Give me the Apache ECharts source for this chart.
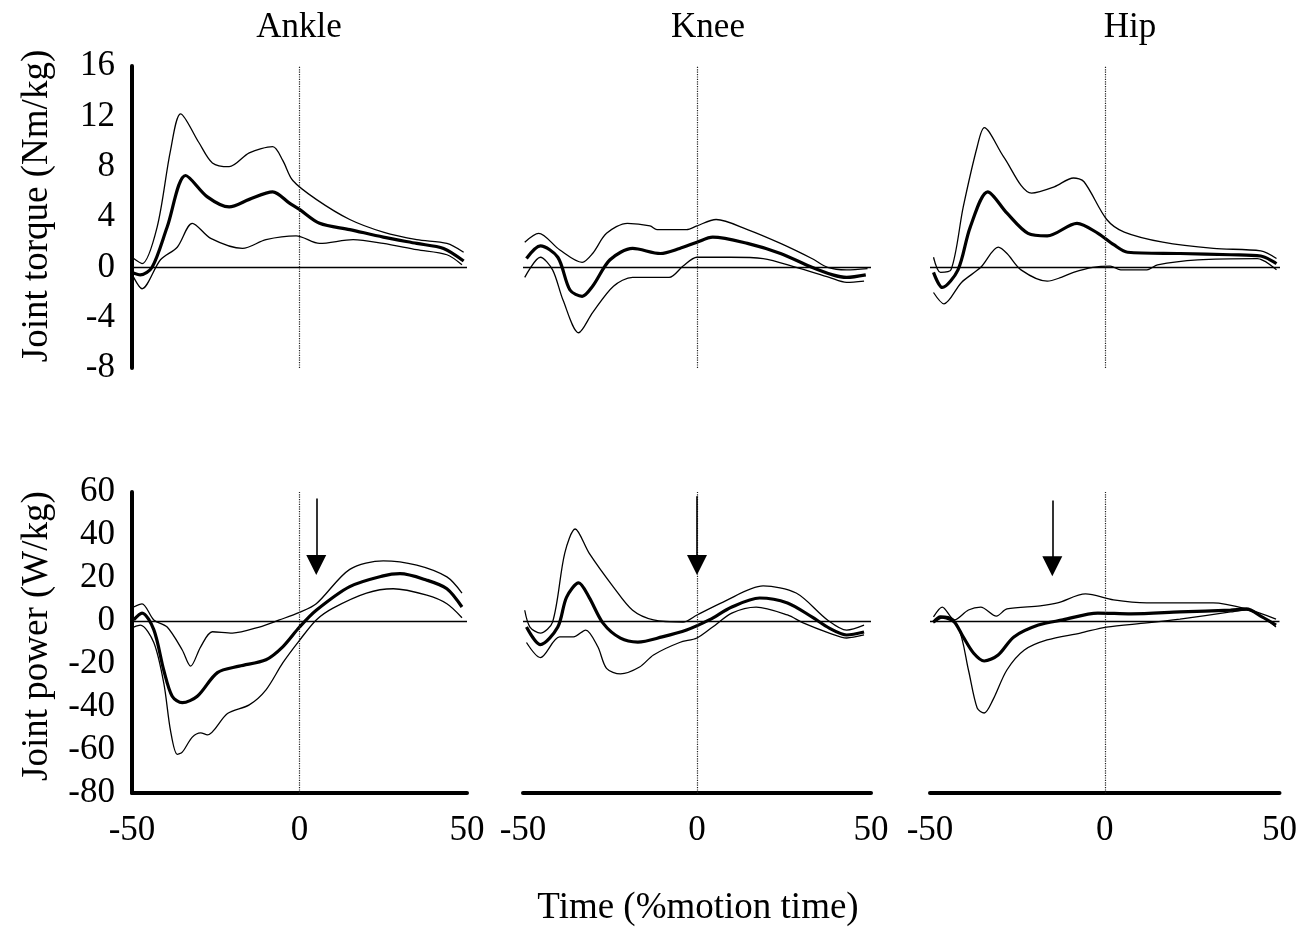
<!DOCTYPE html>
<html>
<head>
<meta charset="utf-8">
<title>Joint torque and power</title>
<script src="https://cdn.jsdelivr.net/npm/echarts/dist/echarts.min.js"></script>
<style>
  html, body { margin: 0; padding: 0; background: #fff; }
  #main { width: 1300px; height: 930px; }
</style>
</head>
<body>
<div id="main"></div>
<script>
// joints (columns) and row quantities
const joints = ['Ankle', 'Knee', 'Hip'];
const rowNames = ['Joint torque (Nm/kg)', 'Joint power (W/kg)'];
const xTicks = { min: -50, max: 50, interval: 50 };
const torqueTicks = { min: -8, max: 16, interval: 4 };
const powerTicks = { min: -80, max: 60, interval: 20 };

// [time %, value]: mean (thick) and +/- SD (thin)
const ankleTorqueMean = [[-50,-0.4],[-47.5,-0.6],[-44,0.0],[-39.5,3.2],[-34,7.3],[-27.5,5.6],[-21,4.8],[-15,5.4],[-8,6.0],[-3,5.1],[0,4.6],[6,3.5],[15,3.0],[25,2.4],[35,1.9],[43,1.5],[49,0.5]];
const ankleTorqueUpper = [[-49.5,0.7],[-47,0.3],[-42.5,3.2],[-38.5,9.3],[-35.5,12.2],[-30,9.9],[-26,8.3],[-21,8.0],[-15,9.1],[-8,9.6],[-5,8.5],[-2,6.9],[5,5.4],[15,3.8],[25,2.8],[35,2.2],[44,1.9],[49,1.2]];
const ankleTorqueLower = [[-49.5,-0.8],[-47,-1.7],[-41.5,0.6],[-36.5,1.6],[-32,3.5],[-26.5,2.3],[-17,1.5],[-10,2.2],[-1,2.5],[6,1.9],[16,2.2],[25,1.9],[35,1.4],[44,1.0],[48.5,0.2]];

const kneeTorqueMean = [[-49,0.7],[-45,1.7],[-40,0.8],[-36.5,-1.8],[-33,-2.3],[-30,-1.5],[-25,0.6],[-18.5,1.5],[-10.5,1.1],[-5,1.5],[0,2.0],[4.5,2.4],[14.5,1.9],[24,1.1],[33,0.0],[39,-0.6],[43,-0.8],[48.5,-0.6]];
const kneeTorqueUpper = [[-49.5,2.0],[-45.5,2.7],[-39.5,1.4],[-33,0.4],[-30,1.1],[-26,2.7],[-20,3.5],[-13.5,3.3],[-11.5,3.0],[-3,3.0],[0,3.3],[5.5,3.8],[14.5,3.0],[24,1.9],[33,0.7],[37.5,0.0],[43,-0.2],[49,-0.1]];
const kneeTorqueLower = [[-49.5,-0.8],[-45,0.8],[-41.5,-0.2],[-38.5,-2.6],[-34,-5.2],[-30,-3.6],[-24,-1.5],[-18.5,-0.8],[-8,-0.8],[-4,0.1],[0,0.8],[9.5,0.8],[19,0.7],[28.5,0.0],[38,-0.8],[43,-1.2],[48,-1.1]];

const hipTorqueMean = [[-49,-0.4],[-46.5,-1.6],[-42,-0.2],[-38.5,3.2],[-33.5,6.0],[-28,4.3],[-22,2.7],[-16.5,2.5],[-8,3.5],[-2,2.7],[2.5,1.8],[6.5,1.2],[21.5,1.1],[36,1.0],[44.5,0.9],[49,0.3]];
const hipTorqueUpper = [[-49,0.8],[-47,-0.4],[-44,-0.2],[-40.5,4.8],[-36.5,9.6],[-34.5,11.1],[-29,8.8],[-21,5.9],[-14.5,6.4],[-9,7.1],[-6,6.8],[0.5,3.8],[5.5,2.8],[16.5,2.0],[31,1.5],[44.5,1.3],[49,0.7]];
const hipTorqueLower = [[-49,-2.0],[-46,-2.9],[-41,-1.2],[-35.5,0.0],[-30.5,1.6],[-28,1.1],[-24,-0.2],[-16.5,-1.1],[-12.5,-0.8],[-9,-0.4],[-3.5,0.0],[1.5,0.1],[4.5,-0.2],[12,-0.2],[15,0.2],[26.5,0.6],[43.5,0.7],[49,-0.2]];

const anklePowerMean = [[-49.5,0.5],[-47,3.7],[-43.5,-4],[-40.5,-23],[-38,-35],[-35,-38],[-30.5,-35],[-24.5,-24],[-18,-21],[-10,-18],[-5,-12],[0,-2.8],[5,5],[15,16],[25,21],[30,22],[38,19],[44,15],[48.5,6.5]];
const anklePowerUpper = [[-49.5,6.5],[-47,8],[-43.5,0.5],[-39.5,-2.8],[-35,-13.5],[-32.5,-21],[-29.5,-12],[-26,-5],[-20,-5.6],[-12,-2.8],[-6,0.5],[0,4],[5,8],[15,24],[25,28],[35,26],[44,20.5],[48.5,13]];
const anklePowerLower = [[-49.5,-2.8],[-47.5,-1.9],[-43.5,-10],[-40.5,-29],[-38.5,-51],[-36.5,-62],[-35,-61],[-32,-54],[-29.5,-52],[-27.5,-53],[-21.5,-43],[-15,-39],[-10,-32],[-5,-19.5],[0,-9],[5,0.5],[10,6],[20,13],[28,15],[38,12],[44,8],[48.5,1.5]];

const kneePowerMean = [[-49,-2.8],[-45,-11],[-40,-2.8],[-37.5,11],[-34,17.7],[-31,11],[-27,-1],[-22,-8],[-17,-9.8],[-10,-7.4],[-3,-4.2],[3.5,0.5],[10,6.5],[18,10.7],[26,8.4],[33,1.9],[38,-3.3],[43,-6.5],[48,-5.1]];
const kneePowerUpper = [[-49.5,5],[-48,-2.8],[-45,-5.6],[-41.5,-0.5],[-38,31.6],[-35,42.8],[-31,31.6],[-24,15.8],[-18.5,5],[-12.5,0.5],[-4,-0.5],[0,2.8],[7.5,8.8],[19,16.3],[28.5,13],[37.5,0.5],[43,-4.2],[48,-1.9]];
const kneePowerLower = [[-49,-10],[-45,-17],[-39.5,-7.4],[-35.5,-7.4],[-32,-4.2],[-28.5,-12],[-26,-22],[-22,-24.6],[-16.5,-21.4],[-12.5,-15.8],[-5,-10],[0,-7.9],[4.5,-2.8],[10,3.7],[17,6.5],[26,2.8],[30.5,-0.9],[38,-5.6],[43,-7.9],[48,-6.5]];

const hipPowerMean = [[-49,-0.5],[-47,1.9],[-43.5,0.5],[-40.5,-7.4],[-37.5,-15],[-34.5,-18.6],[-30.5,-15.8],[-26,-7.4],[-19,-1.9],[-12,0.5],[-2,3.7],[7.5,3.3],[21.5,4.2],[36,5.1],[40.5,5.6],[45,1.9],[49,-1.9]];
const hipPowerUpper = [[-49,1.9],[-46.5,6.5],[-43,0.5],[-39,5.1],[-35.5,6.5],[-31,2.3],[-28,5.6],[-18.5,7],[-13.5,8.4],[-5.5,12.6],[2.5,9.8],[12,8.4],[31,8.4],[40.5,5.6],[49,0.9]];
const hipPowerLower = [[-49,-0.9],[-46.5,1.4],[-42,-2.8],[-39,-22.8],[-36.5,-40.5],[-34.5,-42.8],[-32,-36.7],[-28,-22.8],[-23,-13.5],[-16.5,-8.8],[-7,-5.6],[0.5,-2.8],[12,-0.9],[21.5,0.9],[36,4.2],[40.5,5.1],[49,-2.8]];

// downward arrows in the power row: x position, start value, arrow-head value
const arrowX = [5, 0, -15];
const arrowFrom = [57, 58, 56];
const arrowTo = [26, 26, 25.5];

const panels = [
    [ankleTorqueMean, ankleTorqueUpper, ankleTorqueLower],
    [kneeTorqueMean, kneeTorqueUpper, kneeTorqueLower],
    [hipTorqueMean, hipTorqueUpper, hipTorqueLower],
    [anklePowerMean, anklePowerUpper, anklePowerLower],
    [kneePowerMean, kneePowerUpper, kneePowerLower],
    [hipPowerMean, hipPowerUpper, hipPowerLower]
];

const FONT = '"Liberation Serif", "Times New Roman", serif';
const colLeft = [132, 523, 930];
const colWidth = [335, 348, 350];
const rowTop = [66, 492];
const rowHeight = [302, 301];
const titleX = [299, 708, 1130];
const rowNameY = [206, 636];

const chart = echarts.init(document.getElementById('main'));

let grid = [], xAxis = [], yAxis = [], series = [];
for (let r = 0; r < 2; r++) {
    for (let c = 0; c < 3; c++) {
        let i = r * 3 + c;
        grid.push({ left: colLeft[c], top: rowTop[r], width: colWidth[c], height: rowHeight[r] });
        xAxis.push({
            gridIndex: i,
            type: 'value',
            min: xTicks.min, max: xTicks.max, interval: xTicks.interval,
            show: r === 1,
            axisLine: { show: true, onZero: false, lineStyle: { color: '#000', width: 4 } },
            axisTick: { show: false },
            splitLine: { show: false },
            axisLabel: { color: '#000', fontSize: 35, fontFamily: FONT, margin: 20 }
        });
        let ticks = r === 0 ? torqueTicks : powerTicks;
        yAxis.push({
            gridIndex: i,
            type: 'value',
            min: ticks.min, max: ticks.max, interval: ticks.interval,
            show: c === 0,
            axisLine: { show: true, onZero: false, lineStyle: { color: '#000', width: 4 } },
            axisTick: { show: false },
            splitLine: { show: false },
            axisLabel: { color: '#000', fontSize: 35, fontFamily: FONT, margin: 17 }
        });

        let d = panels[i];
        // mean line carries the zero line and the dotted line at time 0
        series.push({
            type: 'line', xAxisIndex: i, yAxisIndex: i,
            data: d[0], smooth: 0.3, symbol: 'none',
            lineStyle: { color: '#000', width: 3.2 },
            z: 3,
            markLine: {
                silent: true, symbol: 'none', animation: false,
                label: { show: false },
                data: [
                    { yAxis: 0, lineStyle: { color: '#000', width: 1.3, type: 'solid' } },
                    { xAxis: 0, lineStyle: { color: '#222', width: 1.2, type: 'dotted' } }
                ]
            }
        });
        series.push({
            type: 'line', xAxisIndex: i, yAxisIndex: i,
            data: d[1], smooth: 0.3, symbol: 'none',
            lineStyle: { color: '#000', width: 1.3 }
        });
        let lower = {
            type: 'line', xAxisIndex: i, yAxisIndex: i,
            data: d[2], smooth: 0.3, symbol: 'none',
            lineStyle: { color: '#000', width: 1.3 }
        };
        if (r === 1) {
            lower.markLine = {
                silent: true, animation: false,
                symbol: ['none', 'triangle'],
                symbolSize: 20,
                label: { show: false },
                lineStyle: { color: '#000', width: 1.6, type: 'solid' },
                data: [[{ coord: [arrowX[c], arrowFrom[c]] }, { coord: [arrowX[c], arrowTo[c]] }]]
            };
        }
        series.push(lower);
    }
}

let texts = joints.map((name, c) => ({
    type: 'text',
    x: titleX[c], y: 28,
    style: { text: name, fill: '#000', font: '35px ' + FONT, textAlign: 'center', textVerticalAlign: 'middle' }
}));
rowNames.forEach((name, r) => {
    texts.push({
        type: 'text',
        x: 37, y: rowNameY[r], rotation: Math.PI / 2,
        style: { text: name, fill: '#000', font: '37px ' + FONT, textAlign: 'center', textVerticalAlign: 'middle' }
    });
});
texts.push({
    type: 'text',
    x: 698, y: 908,
    style: { text: 'Time (%motion time)', fill: '#000', font: '37px ' + FONT, textAlign: 'center', textVerticalAlign: 'middle' }
});

chart.setOption({
    backgroundColor: '#fff',
    animation: false,
    grid: grid,
    xAxis: xAxis,
    yAxis: yAxis,
    series: series,
    graphic: texts
});
</script>
</body>
</html>
